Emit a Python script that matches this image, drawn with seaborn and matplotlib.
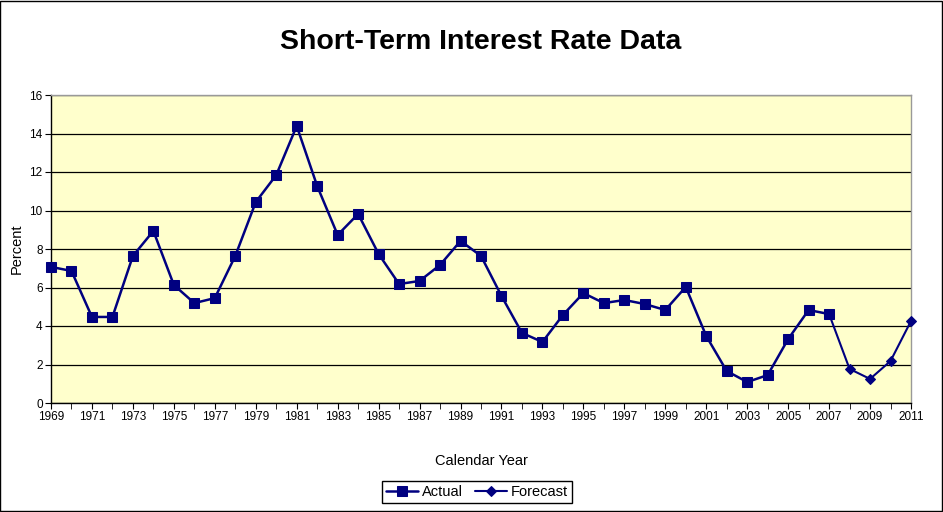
import numpy as np
import pandas as pd
import matplotlib
matplotlib.use("Agg")
import matplotlib.pyplot as plt
from matplotlib.ticker import MultipleLocator
import seaborn as sns

actual_years = list(range(1969, 2008))
actual_rates = [7.07, 6.86, 4.47, 4.47, 7.64, 8.94, 6.13, 5.19, 5.45, 7.64,
                10.44, 11.84, 14.39, 11.27, 8.73, 9.82, 7.74, 6.18, 6.34, 7.17,
                8.42, 7.64, 5.56, 3.64, 3.17, 4.57, 5.71, 5.19, 5.35, 5.14,
                4.83, 6.03, 3.48, 1.66, 1.09, 1.45, 3.32, 4.83, 4.62]
# forecast starts from the last actual point so the line joins up
forecast_years = [2007, 2008, 2009, 2010, 2011]
forecast_rates = [4.62, 1.77, 1.25, 2.18, 4.26]
xtick_years = list(range(1969, 2012, 2))

actual = pd.DataFrame({"year": actual_years, "rate": actual_rates})
forecast = pd.DataFrame({"year": forecast_years, "rate": forecast_rates})

sns.set_style("white")
plt.rcParams['font.family'] = ['Liberation Sans', 'DejaVu Sans']
plt.rcParams['text.color'] = 'black'
plt.rcParams['axes.labelcolor'] = 'black'
plt.rcParams['xtick.color'] = 'black'
plt.rcParams['ytick.color'] = 'black'

navy = "#000080"
fig = plt.figure(figsize=(9.43, 5.12), dpi=100)
ax = fig.add_axes([51 / 943, 1 - 403 / 512, 860 / 943, 308 / 512])
ax.set_facecolor("#FFFFCC")

sns.lineplot(data=forecast, x="year", y="rate", ax=ax, color=navy, marker="D",
             markersize=5.5, linewidth=1.5, markeredgecolor=navy, label="Forecast",
             clip_on=False, zorder=3)
sns.lineplot(data=actual, x="year", y="rate", ax=ax, color=navy, marker="s",
             markersize=6.5, linewidth=1.8, markeredgecolor=navy, label="Actual",
             clip_on=False, zorder=4)

ax.set_xlim(1969, 2011)
ax.set_ylim(0, 16)
ax.set_xticks(xtick_years)
ax.set_xticklabels([str(y) for y in xtick_years])
ax.xaxis.set_minor_locator(MultipleLocator(1))
ax.yaxis.set_major_locator(MultipleLocator(2))
ax.grid(axis="y", color="black", linewidth=0.9)
ax.set_axisbelow(True)
ax.tick_params(axis="both", which="both", direction="out", labelsize=8.5,
               bottom=True, left=True, color="black")
ax.tick_params(axis="x", which="major", length=4, pad=2)
ax.tick_params(axis="x", which="minor", length=4)
ax.tick_params(axis="y", length=4, pad=2)

for s in ["left", "bottom"]:
    ax.spines[s].set_color("black")
    ax.spines[s].set_linewidth(1)
for s in ["top", "right"]:
    ax.spines[s].set_color("#999999")
    ax.spines[s].set_linewidth(1)

ax.set_xlabel("Calendar Year", fontsize=10.5, labelpad=22)
ax.set_ylabel("Percent", fontsize=10.5, labelpad=4)
fig.suptitle("Short-Term Interest Rate Data", fontsize=20.5, fontweight="bold",
             x=481 / 943, y=1 - 42 / 512, va="center", color="black")

handles, labels = ax.get_legend_handles_labels()
ax.get_legend().remove()
order = [labels.index("Actual"), labels.index("Forecast")]
fig.legend([handles[i] for i in order], [labels[i] for i in order],
           loc="center", bbox_to_anchor=(477 / 943, 1 - 492 / 512), ncol=2,
           fontsize=10.5, frameon=True, fancybox=False, edgecolor="black",
           framealpha=1, borderpad=0.25, handlelength=2.2, handletextpad=0.3,
           columnspacing=0.8)

fig.patches.append(plt.Rectangle((0.0005, 0.001), 0.998, 0.997, transform=fig.transFigure,
                                 fill=False, edgecolor="black", linewidth=1))

fig.savefig("out.png", dpi=100)
